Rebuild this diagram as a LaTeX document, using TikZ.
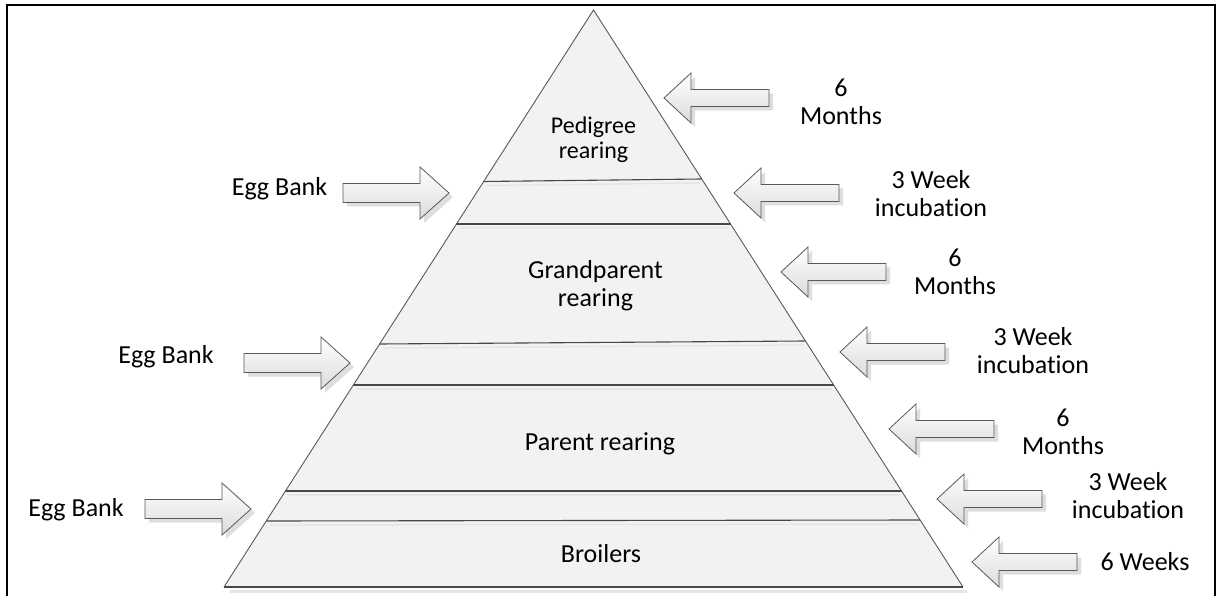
\documentclass[tikz,border=0pt]{standalone}
\usepackage{fontspec}
\setmainfont{Carlito}[Ligatures={NoCommon}]
\tikzset{
  lbl/.style={font=\fontsize{26}{28}\selectfont, align=center, inner sep=0pt, text=black},
  smalllbl/.style={font=\fontsize{24}{25.5}\selectfont, align=center, inner sep=0pt, text=black},
  arrowline/.style={draw=black!65, line width=0.8pt, top color=white, bottom color=black!14, line join=miter},
  arrowshadow/.style={fill=black!13},
  sepline/.style={draw=black!72, line width=1.1pt},
  sepshade/.style={draw=black!10, line width=1.4pt},
  rarr/.pic={
    \begin{scope}[shift={(4,4)}]
      \path[arrowshadow] (0,0) -- (-29,-26) -- (-29,-9.5) -- (-106,-9.5) -- (-106,9.5) -- (-29,9.5) -- (-29,26) -- cycle;
    \end{scope}
    \path[arrowline] (0,0) -- (-29,-26) -- (-29,-9.5) -- (-106,-9.5) -- (-106,9.5) -- (-29,9.5) -- (-29,26) -- cycle;
  },
  larr/.pic={
    \begin{scope}[shift={(4,4)}]
      \path[arrowshadow] (0,0) -- (27,-25) -- (27,-8.5) -- (105,-8.5) -- (105,8.5) -- (27,8.5) -- (27,25) -- cycle;
    \end{scope}
    \path[arrowline] (0,0) -- (27,-25) -- (27,-8.5) -- (105,-8.5) -- (105,8.5) -- (27,8.5) -- (27,25) -- cycle;
  }
}
\begin{document}
\begin{tikzpicture}[x=1pt,y=-1pt]
\useasboundingbox (0,0) rectangle (1216,596);
\fill[white] (0,0) rectangle (1216,596);
% frame
\draw[line width=2pt] (6.7,600) -- (6.7,5) -- (1214.5,5) -- (1214.5,600);

% pyramid coordinates
\def\xl#1{593.5-0.6404*(#1-10)}
\def\xr#1{593.5+0.6404*(#1-10)}
\coordinate (apex) at (593.5,10);
\coordinate (bl) at ({\xl{587}},587);
\coordinate (br) at ({\xr{587}},587);

% base shadow
\draw[black!10, line width=3pt] ({\xl{587}+6},591) -- ({\xr{587}+4},591);
% pyramid fill
\fill[black!5] (apex) -- (br) -- (bl) -- cycle;
% shade lines below separators
\foreach \a/\b in {181.5/179, 224/224, 344/341, 385/385, 491/491, 521/520}{
  \draw[sepshade] ({\xl{\a+4}+6},\a+4) -- ({\xr{\b+4}-4},\b+4);
}
% separators
\foreach \a/\b in {181.5/179, 224/224, 344/341, 385/385, 491/491, 521/520}{
  \draw[sepline] ({\xl{\a}},\a) -- ({\xr{\b}},\b);
}
\draw[sepline] (bl) -- (br);
\draw[draw=black!65, line width=0.9pt, line join=miter] (bl) -- (apex) -- (br);

% layer labels
\node[smalllbl] (ped) at (593.5,139.5) {Pedigree\\rearing};
\node[lbl] (gp) at (595.5,286) {Grandparent\\rearing};
\node[lbl] (par) at (600,444) {Parent rearing};
\node[lbl] (bro) at (601,554) {Broilers};

% left arrows (egg bank)
\pic (ea1) at (449,193) {rarr};
\pic (ea2) at (350,363) {rarr};
\pic (ea3) at (251,509) {rarr};
\node[lbl] (eb1) at (279.5,189) {Egg Bank};
\node[lbl] (eb2) at (166,357) {Egg Bank};
\node[lbl] (eb3) at (76,510) {Egg Bank};

% right arrows
\pic (ra1) at (664,98) {larr};
\pic (ra2) at (734,193) {larr};
\pic (ra3) at (781,272) {larr};
\pic (ra4) at (840,352) {larr};
\pic (ra5) at (889,429) {larr};
\pic (ra6) at (937,499) {larr};
\pic (ra7) at (972,562) {larr};

\node[lbl] (t1) at (841,101.5) {6\\Months};
\node[lbl] (t2) at (931,194) {3 Week\\incubation};
\node[lbl] (t3) at (955,272) {6\\Months};
\node[lbl] (t4) at (1033,351) {3 Week\\incubation};
\node[lbl] (t5) at (1063,432) {6\\Months};
\node[lbl] (t6) at (1128,496) {3 Week\\incubation};
\node[lbl] (t7) at (1145,562) {6 Weeks};
\end{tikzpicture}
\end{document}
